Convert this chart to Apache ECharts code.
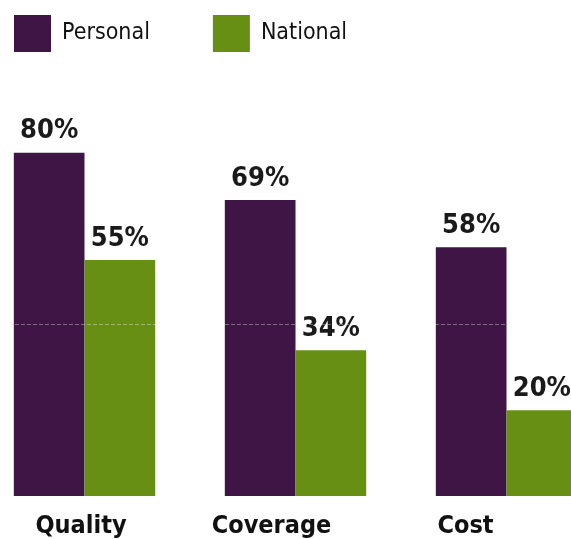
<!DOCTYPE html>
<html><head><meta charset="utf-8">
<script src="https://cdn.jsdelivr.net/npm/echarts@6/dist/echarts.min.js"></script>
<style>html,body{margin:0;padding:0;background:#fff}#c{width:571px;height:539px}</style>
</head><body><div id="c"></div>
<script>
const categories = ['Quality', 'Coverage', 'Cost'];
const personal = [80, 69, 58];
const national = [55, 34, 20];
const seriesNames = ['Personal', 'National'];
const faintLineValue = 40;

const FONT = '"Liberation Sans Narrow", "DejaVu Sans Condensed", "Roboto Condensed", sans-serif';
const chart = echarts.init(document.getElementById('c'));
const labelCfg = {
  show: true, position: 'top', distance: 8,
  formatter: p => p.value + '%',
  fontFamily: FONT, fontWeight: 'bold', fontSize: 27, color: '#1a1a1a'
};
const catStyle = { fontFamily: FONT, fontWeight: 'bold', fontSize: 25, color: '#111' };
chart.setOption({
  animation: false,
  backgroundColor: '#ffffff',
  legend: {
    left: 9, top: 10, itemWidth: 37, itemHeight: 37, itemGap: 63,
    icon: 'rect',
    textStyle: { fontFamily: FONT, fontSize: 23, color: '#111', padding: [0, 0, 0, 6] },
    data: seriesNames
  },
  grid: { left: -21, width: 633, top: 67, bottom: 43, outerBoundsMode: 'none', containLabel: false },
  xAxis: {
    type: 'category', data: categories,
    axisLine: { show: false }, axisTick: { show: false },
    axisLabel: {
      margin: 18,
      formatter: (v, i) => '{' + ['a', 'b', 'c'][i] + '|' + v + '}',
      rich: {
        a: Object.assign({ padding: [0, 7, 0, 0] }, catStyle),
        b: Object.assign({ padding: [0, 48, 0, 0] }, catStyle),
        c: Object.assign({ padding: [0, 82, 0, 0] }, catStyle)
      }
    }
  },
  yAxis: { type: 'value', min: 0, max: 100, show: false, splitLine: { show: false } },
  series: [
    { name: seriesNames[0], type: 'bar', data: personal, barGap: '0%', barCategoryGap: '33%',
      itemStyle: { color: '#3e1545' }, label: labelCfg },
    { name: seriesNames[1], type: 'bar', data: national,
      itemStyle: { color: '#678f14' }, label: labelCfg,
      markLine: {
        silent: true, symbol: 'none', label: { show: false }, z: 5,
        lineStyle: { color: 'rgba(255,255,255,0.35)', type: 'dashed', width: 1 },
        data: [{ yAxis: faintLineValue }]
      } }
  ]
});
</script></body></html>
